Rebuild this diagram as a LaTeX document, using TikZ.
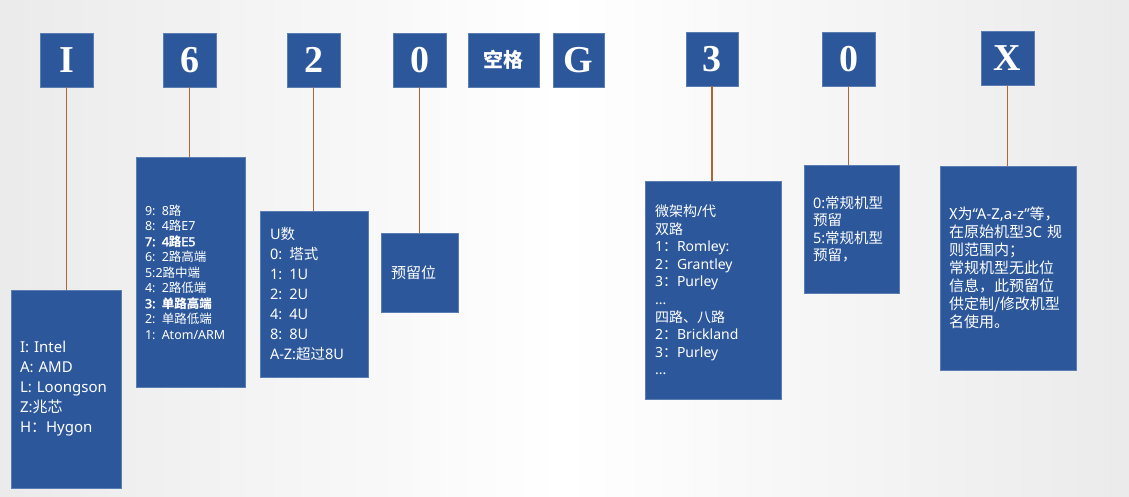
\documentclass[tikz,border=0pt]{standalone}
\usepackage{fontspec}
\setmainfont{Liberation Serif}
\newfontfamily\cjk{Noto Sans CJK SC}
\newfontfamily\boxlat{Noto Sans}
\newfontfamily\boxlatb[FakeBold=2.5]{Noto Sans}
\newcommand{\zh}[1]{{\cjk #1}}
\newcommand{\zhb}[1]{{\cjk\bfseries #1}}
\definecolor{boxblue}{RGB}{44,87,154}
\definecolor{boxedge}{RGB}{90,125,180}
\definecolor{linkc}{RGB}{178,100,50}
\newcommand{\fsz}[2]{\fontsize{#1}{#2}\selectfont}
\tikzset{
  hd/.style={fill=boxblue, draw=boxedge, line width=0.6pt, text=white, minimum width=53pt, minimum height=54pt, inner sep=0pt, font=\bfseries\fsz{38}{38}},
  info/.style={fill=boxblue, draw=boxedge, line width=0.6pt, text=white, inner sep=0pt, align=left},
  link/.style={draw=linkc, line width=1.3pt}
}
\begin{document}
\begin{tikzpicture}[x=1pt, y=-1pt]
\useasboundingbox (0,0) rectangle (1129,496);
\shade[left color=gray!16, right color=gray!16, middle color=white] (0,0) rectangle (1129,496);
% headers
\node[hd] (hI) at (66.5,60) {I};
\node[hd] (h6) at (189.5,60) {6};
\node[hd] (h2) at (313.5,60) {2};
\node[hd] (h0) at (419.5,60) {0};
\node[hd, minimum width=71pt, font=\cjk\bfseries\fsz{20}{20}] (hsp) at (503.5,60) {空格};
\node[hd, minimum width=51pt] (hG) at (578.5,60) {G};
\node[hd, minimum width=52pt] (h3) at (712,59) {3};
\node[hd] (h0b) at (848.5,59) {0};
\node[hd] (hX) at (1007.5,58) {X};
% info boxes
\node[info, minimum width=110pt, minimum height=198pt, text width=92pt, font=\boxlat\fsz{15}{20}] (bI) at (66,389)
  {I: Intel\\A: AMD\\L: Loongson\\Z:\zh{兆芯}\\H\zh{：}Hygon};
\node[info, minimum width=109pt, minimum height=230pt, text width=91pt, font=\boxlat\fsz{12.5}{15.5}] (b6) at (190.5,272)
  {9: 8\zh{路}\\8: 4\zh{路}E7\\{\boxlatb 7: 4\zhb{路}E5}\\6: 2\zh{路高端}\\5:2\zh{路中端}\\4: 2\zh{路低端}\\{\boxlatb 3: \zhb{单路高端}}\\2: \zh{单路低端}\\1: Atom/ARM};
\node[info, minimum width=108pt, minimum height=166pt, text width=88pt, font=\boxlat\fsz{14.5}{20}] (b2) at (314,294)
  {U\zh{数}\\0: \zh{塔式}\\1: 1U\\2: 2U\\4: 4U\\8: 8U\\A-Z:\zh{超过}8U};
\node[info, minimum width=77pt, minimum height=79pt, text width=57pt, font=\cjk\fsz{15}{18}] (b0) at (419.5,272.5)
  {预留位};
\node[info, minimum width=136pt, minimum height=218pt, text width=116pt, font=\boxlat\fsz{14}{17.6}] (b3) at (713,290)
  {\zh{微架构}/\zh{代}\\\zh{双路}\\1\zh{：}Romley:\\2\zh{：}Grantley\\3\zh{：}Purley\\...\\\zh{四路、八路}\\2\zh{：}Brickland\\3\zh{：}Purley\\...};
\node[info, minimum width=95pt, minimum height=128pt, text width=77pt, font=\boxlat\fsz{14.5}{17.5}] (b0b) at (851.5,229)
  {0:\zh{常规机型}\\\zh{预留}\\5:\zh{常规机型}\\\zh{预留，}};
\node[info, minimum width=136pt, minimum height=204pt, text width=118pt, font=\cjk\fsz{15}{18}] (bX) at (1008,268)
  {X为{\boxlat“A-Z,a-z”}等，\\在原始机型{\boxlat 3C} 规\\则范围内；\\常规机型无此位\\信息，此预留位\\供定制/修改机型\\名使用。};
% connectors
\draw[link] (hI.south) -- (hI.south |- bI.north);
\draw[link] (h6.south) -- (h6.south |- b6.north);
\draw[link] (h2.south) -- (h2.south |- b2.north);
\draw[link] (h0.south) -- (h0.south |- b0.north);
\draw[link] (h3.south) -- (h3.south |- b3.north);
\draw[link] (h0b.south) -- (h0b.south |- b0b.north);
\draw[link] (hX.south) -- (hX.south |- bX.north);
\end{tikzpicture}
\end{document}
